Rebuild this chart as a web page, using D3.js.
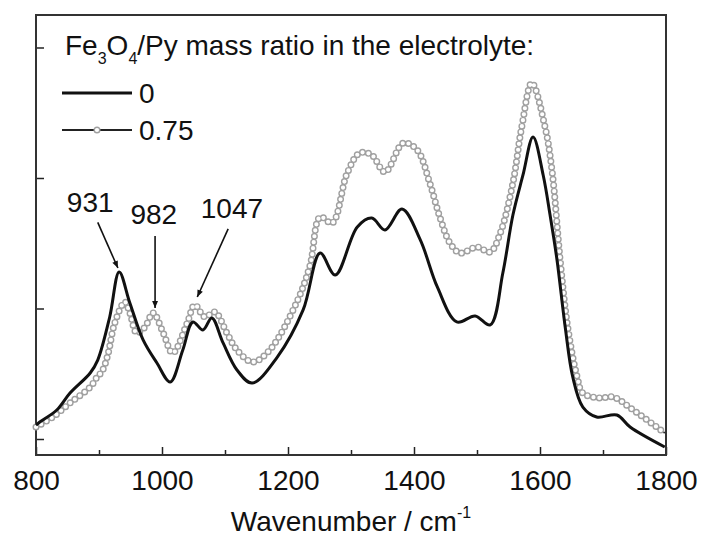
<!DOCTYPE html>
<html><head><meta charset="utf-8">
<script src="https://cdn.jsdelivr.net/npm/d3@7/dist/d3.min.js"></script>
<style>body{margin:0;background:#fff}svg{display:block}text{font-family:"Liberation Sans",Arial,sans-serif;fill:#111}</style>
</head><body><svg id="c" width="701" height="540"></svg>
<script>
// ---- data (wavenumber in cm^-1, absorbance in arbitrary units) ----
const wn0  = [800,806,833,854,886,898,917,932,949,970,992,1013,1033,1049,1065,1079,1097,1119,1143,1183,1224,1251,1275,1310,1333,1354,1381,1410,1437,1468,1497,1521,1541,1557,1573,1589,1605,1616,1627,1640,1652,1668,1690,1722,1743,1798];
const abs0 = [0.107,0.130,0.222,0.352,0.506,0.605,0.935,1.280,1.042,0.759,0.582,0.437,0.682,0.897,0.835,0.927,0.736,0.529,0.429,0.628,0.989,1.425,1.257,1.625,1.693,1.602,1.762,1.525,1.165,0.897,0.943,0.874,1.272,1.716,2.023,2.314,2.023,1.716,1.372,0.858,0.475,0.245,0.169,0.184,0.092,-0.061];

const wn75  = [800,827,854,886,897,905,914,925,941,949,960,973,986,1002,1017,1040,1052,1068,1084,1103,1119,1144,1171,1214,1235,1251,1270,1294,1314,1333,1354,1383,1405,1425,1441,1457,1473,1500,1521,1537,1557,1571,1587,1608,1619,1632,1644,1659,1668,1695,1716,1748,1798];
const abs75 = [0.092,0.169,0.276,0.398,0.475,0.520,0.644,0.889,1.050,0.966,0.812,0.858,0.966,0.812,0.659,0.889,1.027,0.935,0.973,0.812,0.682,0.590,0.682,1.050,1.330,1.701,1.655,2.038,2.192,2.176,2.046,2.268,2.215,1.962,1.701,1.502,1.425,1.471,1.433,1.579,1.962,2.391,2.728,2.391,2.061,1.372,0.858,0.475,0.352,0.314,0.322,0.222,0.046];

const xTicks = [800,1000,1200,1400,1600,1800];
const xMinorTicks = [900,1100,1300,1500,1700];
const yTicks = [0,1,2,3];
const seriesLabels = ["0","0.75"];
const peakLabels = ["931","982","1047"];
// annotation anchors in data units: text (x,y), arrow start, arrow end
const peakText  = [[886,1.740],[987,1.650],[1111,1.690]];
const peakFrom  = [[898,1.660],[989,1.555],[1105,1.610]];
const peakTo    = [[930,1.310],[989,1.004],[1056,1.088]];

// ---- layout ----
const L=36, R=666, T=15, B=455, FS=28;
const svg = d3.select("#c");
const x = d3.scaleLinear().domain([800,1800]).range([L,R]);
const y = d3.scaleLinear().domain([-0.1226,3.249]).range([B,T]);

svg.append("defs").append("marker")
  .attr("id","ah").attr("viewBox","0 0 10 10").attr("refX",10).attr("refY",5)
  .attr("markerWidth",8).attr("markerHeight",7).attr("markerUnits","userSpaceOnUse")
  .attr("orient","auto")
  .append("path").attr("d","M0,0.8 L10,5 L0,9.2 Z").attr("fill","#111");

// axes
const gx = svg.append("g").attr("transform",`translate(0,${B})`)
  .call(d3.axisBottom(x).tickValues(xTicks).tickSize(-8).tickPadding(15).tickFormat(d3.format("d")));
const gxm = svg.append("g").attr("transform",`translate(0,${B})`)
  .call(d3.axisBottom(x).tickValues(xMinorTicks).tickSize(-5).tickFormat(""));
const gy = svg.append("g").attr("transform",`translate(${L},0)`)
  .call(d3.axisLeft(y).tickValues(yTicks).tickSize(-8).tickFormat(""));
[gx,gxm,gy].forEach(g=>{
  g.select(".domain").remove();
  g.selectAll(".tick line").attr("stroke","#222").attr("stroke-width",1.5);
});
gx.selectAll("text").attr("font-size",FS).attr("fill","#111")
  .attr("font-family",'"Liberation Sans",Arial,sans-serif');

// frame
svg.append("rect").attr("x",L).attr("y",T).attr("width",R-L).attr("height",B-T)
  .attr("fill","none").attr("stroke","#333").attr("stroke-width",2);

// lines
const line = d3.line().x(d=>x(d[0])).y(d=>y(d[1])).curve(d3.curveCatmullRom.alpha(0.5));
const d0 = wn0.map((w,i)=>[w,abs0[i]]);
const d75 = wn75.map((w,i)=>[w,abs75[i]]);

// 0.75 series: dark line + open-circle symbol pattern
svg.append("path").attr("d",line(d75)).attr("fill","none").attr("stroke","#222").attr("stroke-width",1.6);
svg.append("path").attr("d",line(d75)).attr("fill","none").attr("stroke","#a0a0a0")
  .attr("stroke-width",7).attr("stroke-linecap","round").attr("stroke-dasharray","0 6");
svg.append("path").attr("d",line(d75)).attr("fill","none").attr("stroke","#fff")
  .attr("stroke-width",4.2).attr("stroke-linecap","round").attr("stroke-dasharray","0 6");

// 0 series: solid thick line
svg.append("path").attr("d",line(d0)).attr("fill","none").attr("stroke","#111").attr("stroke-width",3);

// annotations
peakLabels.forEach((lab,i)=>{
  svg.append("text").attr("x",x(peakText[i][0])).attr("y",y(peakText[i][1]))
    .attr("text-anchor","middle").attr("font-size",FS).text(lab);
  svg.append("line").attr("x1",x(peakFrom[i][0])).attr("y1",y(peakFrom[i][1]))
    .attr("x2",x(peakTo[i][0])).attr("y2",y(peakTo[i][1]))
    .attr("stroke","#111").attr("stroke-width",1.6).attr("marker-end","url(#ah)");
});

// legend
const lt = svg.append("text").attr("x",65).attr("y",55).attr("font-size",FS);
lt.append("tspan").text("Fe");
lt.append("tspan").attr("font-size",16).attr("dy",9).text("3");
lt.append("tspan").attr("dy",-9).text("O");
lt.append("tspan").attr("font-size",16).attr("dy",9).text("4");
lt.append("tspan").attr("dy",-9).text("/Py mass ratio in the electrolyte:");

const legY = [93,130];
// series "0"
svg.append("line").attr("x1",62).attr("x2",132).attr("y1",legY[0]).attr("y2",legY[0])
  .attr("stroke","#111").attr("stroke-width",3);
// series "0.75"
svg.append("line").attr("x1",62).attr("x2",132).attr("y1",legY[1]).attr("y2",legY[1])
  .attr("stroke","#222").attr("stroke-width",2);
svg.append("circle").attr("cx",97).attr("cy",legY[1]).attr("r",2.8)
  .attr("fill","#fff").attr("stroke","#a0a0a0").attr("stroke-width",1.4);
seriesLabels.forEach((s,i)=>{
  svg.append("text").attr("x",139).attr("y",legY[i]+10).attr("font-size",FS).text(s);
});

// x title
const xt = svg.append("text").attr("x",(L+R)/2).attr("y",531).attr("text-anchor","middle").attr("font-size",FS);
xt.append("tspan").text("Wavenumber / cm");
xt.append("tspan").attr("font-size",16).attr("dy",-13).text("-1");
</script></body></html>
